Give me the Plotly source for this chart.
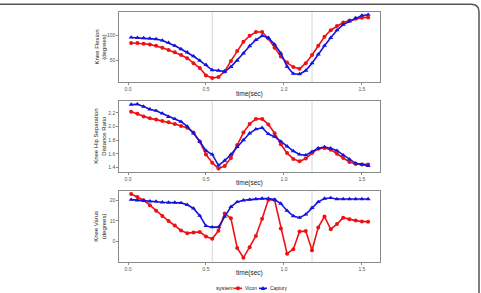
import plotly.graph_objects as go

time_sec = [0.02, 0.06, 0.10, 0.14, 0.18, 0.22, 0.26, 0.30, 0.34, 0.38,
            0.42, 0.46, 0.50, 0.54, 0.58, 0.62, 0.66, 0.70, 0.74, 0.78,
            0.82, 0.86, 0.90, 0.94, 0.98, 1.02, 1.06, 1.10, 1.14, 1.18,
            1.22, 1.26, 1.30, 1.34, 1.38, 1.42, 1.46, 1.50, 1.54]

flex_vicon = [84.9, 84.9, 83.6, 82.2, 79.6, 75.7, 71.0, 66.4, 61.2, 54.6,
              44.7, 35.0, 20.4, 15.0, 17.0, 28.3, 49.3, 69.0, 87.5, 99.3,
              107.0, 107.0, 94.0, 75.7, 58.0, 46.0, 37.0, 33.5, 44.7, 61.0,
              79.6, 97.4, 110.5, 119.0, 125.7, 130.0, 133.5, 135.5, 136.0]
flex_captury = [96.0, 95.4, 94.7, 94.0, 92.8, 90.0, 85.5, 79.6, 73.0, 66.4,
                58.6, 50.0, 41.4, 31.0, 30.0, 28.0, 37.5, 50.0, 64.5, 79.0,
                91.0, 99.3, 95.4, 82.0, 64.5, 38.0, 23.7, 23.0, 30.0, 44.7,
                62.5, 79.6, 95.4, 110.5, 121.7, 128.3, 135.0, 140.0, 141.4]

ratio_vicon = [2.215, 2.185, 2.147, 2.118, 2.10, 2.08, 2.06, 2.036, 2.007, 1.98,
               1.91, 1.78, 1.59, 1.47, 1.385, 1.42, 1.54, 1.73, 1.91, 2.036,
               2.11, 2.11, 2.03, 1.90, 1.74, 1.61, 1.525, 1.49, 1.53, 1.61,
               1.675, 1.685, 1.66, 1.60, 1.54, 1.48, 1.45, 1.445, 1.445]
ratio_captury = [2.32, 2.325, 2.29, 2.25, 2.23, 2.19, 2.14, 2.11, 2.07, 2.00,
                 1.90, 1.78, 1.645, 1.59, 1.43, 1.50, 1.59, 1.70, 1.80, 1.90,
                 1.96, 1.98, 1.89, 1.85, 1.78, 1.71, 1.64, 1.59, 1.58, 1.63,
                 1.68, 1.70, 1.68, 1.645, 1.58, 1.52, 1.46, 1.445, 1.425]

varus_vicon = [23.0, 21.6, 20.0, 17.6, 14.9, 12.3, 9.9, 7.7, 5.3, 4.0,
               4.3, 4.6, 2.4, 1.3, 5.1, 13.6, 11.2, -3.2, -8.0, -2.9,
               2.6, 11.0, 20.2, 20.1, 6.3, -6.0, -3.8, 4.8, 5.0, -4.3,
               6.8, 12.1, 5.9, 8.4, 11.5, 10.7, 10.1, 9.7, 9.5]
varus_captury = [20.3, 20.0, 19.7, 19.5, 19.4, 19.0, 18.9, 18.9, 18.7, 17.8,
                 16.0, 12.5, 7.5, 6.9, 6.9, 12.0, 16.8, 19.2, 20.0, 20.3,
                 20.6, 20.8, 20.8, 20.3, 18.4, 14.9, 12.3, 11.5, 13.1, 16.3,
                 19.2, 20.8, 21.1, 20.6, 20.6, 20.6, 20.6, 20.6, 20.6]

event_times = [0.54, 1.18]
x_ticks = [0.0, 0.5, 1.0, 1.5]
x_tick_text = ["0.0", "0.5", "1.0", "1.5"]
y_titles = ["Knee Flexion<br>(degrees)",
            "Knee Hip Separation<br>Distance Ratio",
            "Knee Varus<br>(degrees)"]
y_ticks = [[50, 100], [1.4, 1.6, 1.8, 2.0, 2.2], [0, 10, 20]]
y_tick_text = [["50", "100"], ["1.4", "1.6", "1.8", "2.0", "2.2"], ["0", "10", "20"]]
y_ranges = [[6.6, 147.4], [1.338, 2.372], [-9.9, 24.5]]
series = [(flex_vicon, flex_captury), (ratio_vicon, ratio_captury), (varus_vicon, varus_captury)]
legend_title = "system"
legend_names = ["Vicon", "Captury"]

W, H = 481, 293
RED = "#ee1111"
BLUE = "#1414dd"
FONT = "Liberation Sans"

# panel geometry in pixels (top, bottom)
panels_px = [(11.7, 82.3), (101.0, 171.7), (191.0, 261.7)]
x_left, x_right = 119.3, 380.0


def px(x):
    return x / W


def py(y):
    return 1 - y / H


fig = go.Figure()
annotations = []
shapes = []
for k, ((vic, cap), (top, bot)) in enumerate(zip(series, panels_px)):
    ax = "" if k == 0 else str(k + 1)
    fig.add_trace(go.Scatter(x=time_sec, y=vic, mode="lines+markers", name=legend_names[0],
                             line=dict(color=RED, width=1.6),
                             marker=dict(symbol="circle", size=4, color=RED),
                             xaxis="x" + ax, yaxis="y" + ax, showlegend=False))
    fig.add_trace(go.Scatter(x=time_sec, y=cap, mode="lines+markers", name=legend_names[1],
                             line=dict(color=BLUE, width=1.6),
                             marker=dict(symbol="triangle-up", size=4.5, color=BLUE),
                             xaxis="x" + ax, yaxis="y" + ax, showlegend=False))
    axis_common = dict(showgrid=False, zeroline=False, showline=True, mirror=True,
                       linecolor="#8a8a8a", linewidth=1, ticks="outside", ticklen=2,
                       tickcolor="#8a8a8a", tickfont=dict(size=5, color="#555555", family=FONT))
    fig.update_layout(**{
        "xaxis" + ax: dict(domain=[px(x_left), px(x_right)], range=[-0.056, 1.616],
                           anchor="y" + ax, tickvals=x_ticks, ticktext=x_tick_text, **axis_common),
        "yaxis" + ax: dict(domain=[py(bot), py(top)], range=y_ranges[k], anchor="x" + ax,
                           tickvals=y_ticks[k], ticktext=y_tick_text[k], **axis_common),
    })
    for t in event_times:
        shapes.append(dict(type="line", xref="x" + ax, yref="y" + ax + " domain",
                           x0=t, x1=t, y0=0, y1=1, layer="below",
                           line=dict(color="#d6d6d6", width=1)))
    annotations.append(dict(text="time(sec)", xref="paper", yref="paper",
                            x=px((x_left + x_right) / 2), y=py(bot + 11.5),
                            showarrow=False, xanchor="center", yanchor="middle",
                            font=dict(size=6.5, color="#222222", family=FONT)))
    annotations.append(dict(text=y_titles[k], xref="paper", yref="paper",
                            x=px(100.5), y=py((top + bot) / 2), textangle=-90,
                            showarrow=False, xanchor="center", yanchor="middle",
                            font=dict(size=6, color="#222222", family=FONT)))

# manual legend (ggplot style, compact)
ly = 288.3
annotations.append(dict(text=legend_title, xref="paper", yref="paper", x=px(214.5), y=py(ly),
                        showarrow=False, xanchor="left", yanchor="middle", borderpad=0,
                        font=dict(size=5.6, color="#222222", family=FONT)))
for (x0, x1, color, name, tx, sym) in [(234.0, 242.0, RED, legend_names[0], 243.8, "c"),
                                       (259.0, 267.0, BLUE, legend_names[1], 268.8, "t")]:
    shapes.append(dict(type="line", xref="paper", yref="paper", x0=px(x0), x1=px(x1),
                       y0=py(ly), y1=py(ly), line=dict(color=color, width=1.6)))
    cx = (x0 + x1) / 2
    if sym == "c":
        shapes.append(dict(type="circle", xref="paper", yref="paper",
                           x0=px(cx - 2), x1=px(cx + 2), y0=py(ly + 2), y1=py(ly - 2),
                           fillcolor=color, line=dict(color=color, width=0)))
    else:
        shapes.append(dict(type="path", xref="paper", yref="paper",
                           path=f"M {px(cx-2.3)},{py(ly+1.8)} L {px(cx+2.3)},{py(ly+1.8)} L {px(cx)},{py(ly-2.4)} Z",
                           fillcolor=color, line=dict(color=color, width=0)))
    annotations.append(dict(text=name, xref="paper", yref="paper", x=px(tx), y=py(ly),
                            showarrow=False, xanchor="left", yanchor="middle", borderpad=0,
                            font=dict(size=4.8, color="#222222", family=FONT)))

# outer frame (rounded top-right corner)
shapes.append(dict(type="path", xref="paper", yref="paper",
                   path=f"M 0,{py(4.3)} L {px(471)},{py(4.3)} Q {px(479)},{py(4.3)} {px(479)},{py(12)} L {px(479)},0",
                   line=dict(color="#555555", width=1.5)))

fig.update_layout(
    width=W, height=H, margin=dict(l=0, r=0, t=0, b=0),
    paper_bgcolor="white", plot_bgcolor="white",
    shapes=shapes, annotations=annotations, showlegend=False,
    font=dict(family=FONT),
)

fig.write_html("out.html")
